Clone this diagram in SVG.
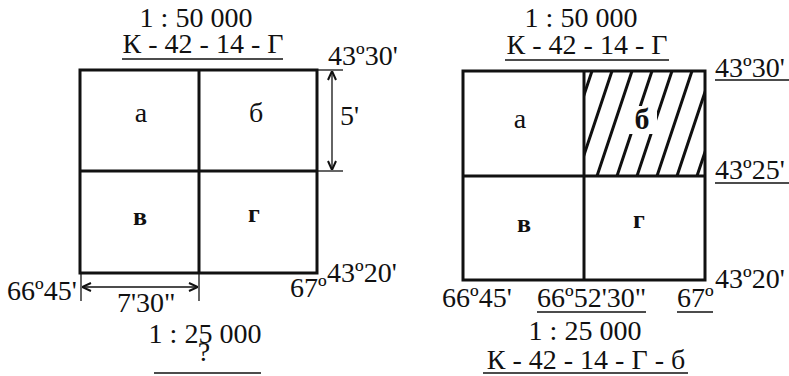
<svg xmlns="http://www.w3.org/2000/svg" width="789" height="376" viewBox="0 0 789 376">
<style>
.m{text-anchor:middle}
.frame{fill:none;stroke:#111;stroke-width:3}
.grid{stroke:#111;stroke-width:3}
.ul{stroke:#111;stroke-width:1.6}
.dim{stroke:#111;stroke-width:1.3;fill:none}
.hatch{stroke:#111;stroke-width:3}
</style>
<defs>
<marker id="ah" viewBox="0 0 10 10" refX="10" refY="5" markerWidth="10" markerHeight="10" markerUnits="userSpaceOnUse" orient="auto-start-reverse">
<path d="M1,1 L10,5 L1,9" fill="none" stroke="#111" stroke-width="2"/>
</marker>
<clipPath id="cb"><rect x="584" y="71" width="121" height="105"/></clipPath>
</defs>
<rect width="789" height="376" fill="#fff"/>
<g font-family="Liberation Serif" font-size="28" fill="#111">
<g id="left-title">
<text class="m" x="196" y="27">1 : 50 000</text>
<text class="m" x="203" y="53">К - 42 - 14 - Г</text>
<line class="ul" x1="122" y1="59" x2="283" y2="59"/>
</g>
<g id="left-sheet">
<rect class="frame" x="80" y="70" width="237" height="203"/>
<line class="grid" x1="199" y1="70" x2="199" y2="273"/>
<line class="grid" x1="80" y1="171" x2="317" y2="171"/>
</g>
<g id="left-a"><text class="m" x="141" y="122">а</text></g>
<g id="left-b"><text class="m" x="256" y="122">б</text></g>
<g id="left-v"><text class="m" x="140" y="225" font-weight="bold" font-size="26">в</text></g>
<g id="left-g"><text class="m" x="254" y="222" font-weight="bold" font-size="26">г</text></g>
<g id="left-labels">
<text x="328" y="65">43º30'</text>
<text x="340" y="125">5'</text>
<text x="7" y="300">66º45'</text>
<text x="117" y="312">7'30"</text>
<text x="290" y="297">67º</text>
<text x="327" y="282">43º20'</text>
<text class="m" x="205" y="343">1 : 25 000</text>
<text class="m" x="204" y="361">?</text>
<line class="ul" x1="154" y1="373" x2="261" y2="373" stroke-width="2"/>
</g>
<g id="right-title">
<text class="m" x="581" y="27">1 : 50 000</text>
<text class="m" x="587" y="54">К - 42 - 14 - Г</text>
<line class="ul" x1="505" y1="60" x2="669" y2="60"/>
</g>
<g id="right-b-hatch" clip-path="url(#cb)">
<line class="hatch" x1="552" y1="71" x2="517" y2="176"/>
<line class="hatch" x1="572" y1="71" x2="537" y2="176"/>
<line class="hatch" x1="592" y1="71" x2="557" y2="176"/>
<line class="hatch" x1="612" y1="71" x2="577" y2="176"/>
<line class="hatch" x1="632" y1="71" x2="597" y2="176"/>
<line class="hatch" x1="652" y1="71" x2="617" y2="176"/>
<line class="hatch" x1="672" y1="71" x2="637" y2="176"/>
<line class="hatch" x1="692" y1="71" x2="657" y2="176"/>
<line class="hatch" x1="712" y1="71" x2="677" y2="176"/>
<line class="hatch" x1="732" y1="71" x2="697" y2="176"/>
<line class="hatch" x1="752" y1="71" x2="717" y2="176"/>
</g>
<g id="right-sheet">
<rect class="frame" x="463" y="71" width="242" height="209"/>
<line class="grid" x1="584" y1="71" x2="584" y2="280"/>
<line class="grid" x1="463" y1="176" x2="705" y2="176"/>
</g>
<g id="right-a"><text class="m" x="520" y="128">а</text></g>
<g id="right-b">
<rect x="629" y="106" width="28" height="28" fill="#fff"/>
<text class="m" x="642" y="129" font-weight="bold" font-size="30">б</text>
</g>
<g id="right-v"><text class="m" x="524" y="232" font-weight="bold" font-size="26">в</text></g>
<g id="right-g"><text class="m" x="639" y="228" font-weight="bold" font-size="26">г</text></g>
<g id="right-labels">
<text x="715" y="77">43º30'</text>
<line class="ul" x1="715" y1="80" x2="789" y2="80"/>
<text x="715" y="179">43º25'</text>
<line class="ul" x1="715" y1="183" x2="789" y2="183"/>
<text x="715" y="288">43º20'</text>
<text x="442" y="307">66º45'</text>
<text x="537" y="307">66º52'30"</text>
<line class="ul" x1="537" y1="312" x2="646" y2="312"/>
<text x="677" y="307">67º</text>
<line class="ul" x1="677" y1="312" x2="713" y2="312"/>
<text class="m" x="585" y="340">1 : 25 000</text>
<text class="m" x="586" y="369">К - 42 - 14 - Г - б</text>
<line class="ul" x1="483" y1="373" x2="688" y2="373"/>
</g>
</g>
<g id="connectors">
<line class="dim" x1="317" y1="70" x2="343" y2="70"/>
<line class="dim" x1="317" y1="171" x2="343" y2="171"/>
<line class="dim" x1="332" y1="71" x2="332" y2="170" marker-start="url(#ah)" marker-end="url(#ah)"/>
<line class="dim" x1="81" y1="273" x2="81" y2="301"/>
<line class="dim" x1="199" y1="273" x2="199" y2="301"/>
<line class="dim" x1="82" y1="287" x2="198" y2="287" marker-start="url(#ah)" marker-end="url(#ah)"/>
</g>
</svg>
